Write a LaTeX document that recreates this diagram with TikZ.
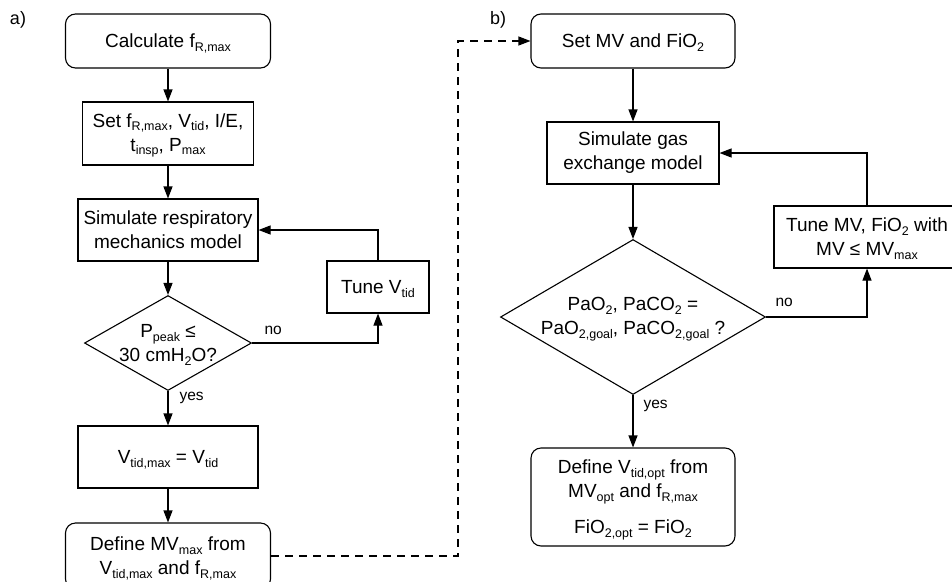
\documentclass[tikz,border=0pt]{standalone}
\usepackage{fontspec}
\setmainfont{Liberation Sans}
\usetikzlibrary{arrows.meta, shapes.geometric, positioning}
% subscript that does not change the line height
\newcommand{\sbs}[1]{\raisebox{-0.2em}[0pt][0pt]{\fontsize{12.5pt}{12.5pt}\selectfont #1}}
\tikzset {
    box/.style = {
        draw,
        shape = rectangle,
        align = center,
        inner sep = 2pt,
        line width = 1.1pt,
        font = \fontsize{19pt}{24pt}\selectfont
    },
    term/.style = {
        box,
        rounded corners = 10pt
    },
    decision/.style = {
        box,
        shape = diamond,
        inner sep = 0pt
    },
    lbl/.style = {
        inner sep = 0pt,
        font = \fontsize{15.5pt}{18pt}\selectfont
    },
    tag/.style = {
        inner sep = 0pt,
        font = \fontsize{18pt}{20pt}\selectfont
    },
    flow/.style = {
        -{Triangle[length=12pt, width=9pt]},
        line width = 1.1pt
    }
}
\begin{document}
\begin{tikzpicture}[x=1pt, y=-1pt]
        \useasboundingbox (0,0) rectangle (952,581);

        % a) : respiratory mechanics
        \node [tag] at (18, 20)                                                      (taga)    {a)};
        \node [term, minimum width=205pt, minimum height=54pt] at (168, 41)          (calcf)   {Calculate f\sbs{R,max}};
        \node [box, minimum width=171pt, minimum height=63pt] at (168, 133.5)        (setpar)  {Set f\sbs{R,max}, V\sbs{tid}, I/E,\\ t\sbs{insp}, P\sbs{max}};
        \node [box, minimum width=180pt, minimum height=62pt] at (168, 230)          (simresp) {Simulate respiratory\\ mechanics model};
        \node [box, minimum width=102pt, minimum height=52pt] at (378, 287)          (tunev)   {Tune V\sbs{tid}};
        \node [decision, aspect=1.76, minimum width=167pt, minimum height=95pt] at (168, 343) (ppeak) {P\sbs{peak} ≤\\ 30 cmH\sbs{2}O?};
        \node [box, minimum width=180pt, minimum height=62pt] at (168, 457)          (vmax)    {V\sbs{tid,max} = V\sbs{tid}};
        \node [term, minimum width=205pt, minimum height=66pt] at (168, 556)         (defmv)   {Define MV\sbs{max} from\\ V\sbs{tid,max} and f\sbs{R,max}};

        % b) : gas exchange
        \node [tag] at (498, 20)                                                     (tagb)    {b)};
        \node [term, minimum width=204pt, minimum height=54pt] at (633, 41)          (setmv)   {Set MV and FiO\sbs{2}};
        \node [box, minimum width=172pt, minimum height=62pt] at (633, 153)          (simgas)  {Simulate gas\\ exchange model};
        \node [decision, aspect=1.71, minimum width=265pt, minimum height=155pt] at (633, 317) (pagoal) {PaO\sbs{2}, PaCO\sbs{2} =\\ PaO\sbs{2,goal}, PaCO\sbs{2,goal} ?};
        \node [box, minimum width=186pt, minimum height=62pt] at (867, 237)          (tunemv)  {Tune MV, FiO\sbs{2} with\\ MV ≤ MV\sbs{max}};
        \node [term, minimum width=204pt, minimum height=98pt] at (633, 497)         (defvt)   {Define V\sbs{tid,opt} from\\ MV\sbs{opt} and f\sbs{R,max}\\[12pt] FiO\sbs{2,opt} = FiO\sbs{2}};

        \coordinate (dashturn) at (458, 41);

        \draw [flow]    (calcf)         --  (setpar);
        \draw [flow]    (setpar)        --  (simresp);
        \draw [flow]    (simresp)       --  (ppeak);
        \draw [flow]    (ppeak.south)   --  node [lbl, pos=0, below right=1pt and 11pt] {yes} (vmax);
        \draw [flow]    (ppeak.east)    -|  node [lbl, pos=0, above right=8pt and 12pt] {no} (tunev.south);
        \draw [flow]    (tunev.north)   |-  (simresp.east);
        \draw [flow]    (vmax)          --  (defmv);

        \draw [flow, dash pattern=on 8pt off 6pt] (defmv.east) -| (dashturn) -- (setmv.west);

        \draw [flow]    (setmv)         --  (simgas);
        \draw [flow]    (simgas)        --  (pagoal);
        \draw [flow]    (pagoal.south)  --  node [lbl, pos=0, below right=5pt and 10pt] {yes} (defvt);
        \draw [flow]    (pagoal.east)   -|  node [lbl, pos=0, above right=10pt and 9pt] {no} (tunemv.south);
        \draw [flow]    (tunemv.north)  |-  (simgas.east);
\end{tikzpicture}
\end{document}
